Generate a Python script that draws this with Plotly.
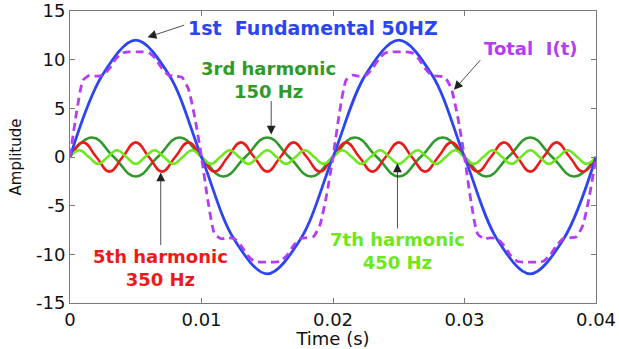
import plotly.graph_objects as go

# ---------------- data ----------------
frequencies = [50, 150, 250, 350]          # actual periodicity of the drawn curves (Hz)

# fundamental sampled every 1/8 period (0.0025 s)
fund_values = [0, 8.5, 12, 8.5, 0, -8.5, -12, -8.5, 0, 8.5, 12, 8.5, 0, -8.5, -12, -8.5, 0]

# harmonics sampled every 1/4 period (zero, peak, zero, trough ...)
h3_values = [0, 2, 0, -2, 0, 2, 0, -2, 0, 2, 0, -2, 0, 2, 0, -2, 0, 2, 0, -2, 0, 2, 0, -2, 0]
h5_values = [0, 1.5, 0, -1.5, 0, 1.5, 0, -1.5, 0, 1.5, 0, -1.5, 0, 1.5, 0, -1.5, 0, 1.5, 0, -1.5,
             0, 1.5, 0, -1.5, 0, 1.5, 0, -1.5, 0, 1.5, 0, -1.5, 0, 1.5, 0, -1.5, 0, 1.5, 0, -1.5, 0]
h7_values = [0, 0.7, 0, -0.7, 0, 0.7, 0, -0.7, 0, 0.7, 0, -0.7, 0, 0.7, 0, -0.7, 0, 0.7, 0, -0.7,
             0, 0.7, 0, -0.7, 0, 0.7, 0, -0.7, 0, 0.7, 0, -0.7, 0, 0.7, 0, -0.7, 0, 0.7, 0, -0.7,
             0, 0.7, 0, -0.7, 0, 0.7, 0, -0.7, 0, 0.7, 0, -0.7, 0, 0.7, 0, -0.7, 0]

# total current sampled every 0.0005 s
total_step = 0.0005
total_values = [0, 4.6, 7.9, 8.4, 8.3, 8.4, 9.1, 10.1, 10.7, 10.8, 10.8, 10.8, 10.7, 10.1, 9.1, 8.4, 8.3, 8.2, 7.0, 4.0,
                0, -4.6, -7.9, -8.4, -8.3, -8.4, -9.1, -10.1, -10.7, -10.8, -10.8, -10.8, -10.7, -10.1, -9.1, -8.4, -8.3, -8.2, -7.0, -4.0,
                0, 4.6, 7.9, 8.4, 8.3, 8.4, 9.1, 10.1, 10.7, 10.8, 10.8, 10.8, 10.7, 10.1, 9.1, 8.4, 8.3, 8.2, 7.0, 4.0,
                0, -4.6, -7.9, -8.4, -8.3, -8.4, -9.1, -10.1, -10.7, -10.8, -10.8, -10.8, -10.7, -10.1, -9.1, -8.4, -8.3, -8.2, -7.0, -4.0,
                0]

x_ticks = [0, 0.01, 0.02, 0.03, 0.04]
x_ticktext = ["0", "0.01", "0.02", "0.03", "0.04"]
y_ticks = [-15, -10, -5, 0, 5, 10, 15]
y_ticktext = ["-15", "-10", "-5", "0", "5", "10", "15"]

# ---------------- styles ----------------
C_BLUE = "#2c45f2"
C_PURPLE = "#b43cf4"
C_DGREEN = "#2f9a2a"
C_RED = "#ee1a1a"
C_LGREEN = "#6ce81c"


def grid(values, step):
    return [i * step for i in range(len(values))]


fig = go.Figure()

fig.add_trace(go.Scatter(x=grid(h3_values, 1 / frequencies[1] / 4), y=h3_values, mode="lines",
                         line=dict(color=C_DGREEN, width=2.6, shape="spline", smoothing=1.3)))
fig.add_trace(go.Scatter(x=grid(h5_values, 1 / frequencies[2] / 4), y=h5_values, mode="lines",
                         line=dict(color=C_RED, width=2.6, shape="spline", smoothing=1.3)))
fig.add_trace(go.Scatter(x=grid(h7_values, 1 / frequencies[3] / 4), y=h7_values, mode="lines",
                         line=dict(color=C_LGREEN, width=2.6, shape="spline", smoothing=1.3)))
fig.add_trace(go.Scatter(x=grid(fund_values, 1 / frequencies[0] / 8), y=fund_values, mode="lines",
                         line=dict(color=C_BLUE, width=2.8, shape="spline", smoothing=1.0)))
fig.add_trace(go.Scatter(x=grid(total_values, total_step), y=total_values, mode="lines",
                         line=dict(color=C_PURPLE, width=2.8, dash="8px,5px", shape="spline", smoothing=0.6)))

TXT = "DejaVu Sans"


def label(x, y, text, color, size=18):
    fig.add_annotation(x=x, y=y, xref="x", yref="y", text="<b>" + text + "</b>", showarrow=False,
                       font=dict(family=TXT, size=size, color=color), xanchor="center", yanchor="middle")


def arrow(x_tip, y_tip, x_tail, y_tail):
    fig.add_annotation(x=x_tip, y=y_tip, ax=x_tail, ay=y_tail, xref="x", yref="y", axref="x", ayref="y",
                       text="", showarrow=True, arrowhead=2, arrowsize=2.2, arrowwidth=0.8, arrowcolor="#222")


label(0.0185, 13.3, "1st\u00a0 Fundamental 50HZ", C_BLUE, 19)
arrow(0.0059, 12.3, 0.0088, 13.6)

label(0.0350, 11.15, "Total\u00a0 I(t)", C_PURPLE)
arrow(0.0292, 6.9, 0.0313, 10.1)

label(0.0151, 7.95, "3rd harmonic<br>150 Hz", C_DGREEN)
arrow(0.0153, 2.3, 0.0153, 5.9)

label(0.0069, -11.4, "5th harmonic<br>350 Hz", C_RED)
arrow(0.0069, -1.6, 0.0069, -9.2)

label(0.0249, -9.7, "7th harmonic<br>450 Hz", C_LGREEN)
arrow(0.0249, -0.65, 0.0249, -7.5)

axis_common = dict(showgrid=False, zeroline=False, showline=True, linecolor="#7a7a7a", linewidth=1,
                   ticks="inside", ticklen=5, tickcolor="#7a7a7a", mirror="ticks",
                   tickfont=dict(family=TXT, size=18, color="#111"))

fig.update_xaxes(range=[0, 0.04], tickvals=x_ticks, ticktext=x_ticktext,
                 title=dict(text="Time (s)", font=dict(family=TXT, size=18, color="#111"), standoff=12),
                 **axis_common)
fig.update_yaxes(range=[-15, 15], tickvals=y_ticks, ticktext=y_ticktext,
                 title=dict(text="Amplitude", font=dict(family=TXT, size=15, color="#111"), standoff=10),
                 **axis_common)

fig.update_layout(width=619, height=349, margin=dict(l=70, r=23, t=11, b=46, autoexpand=False),
                  paper_bgcolor="white", plot_bgcolor="white", showlegend=False)

fig.write_html("out.html")
